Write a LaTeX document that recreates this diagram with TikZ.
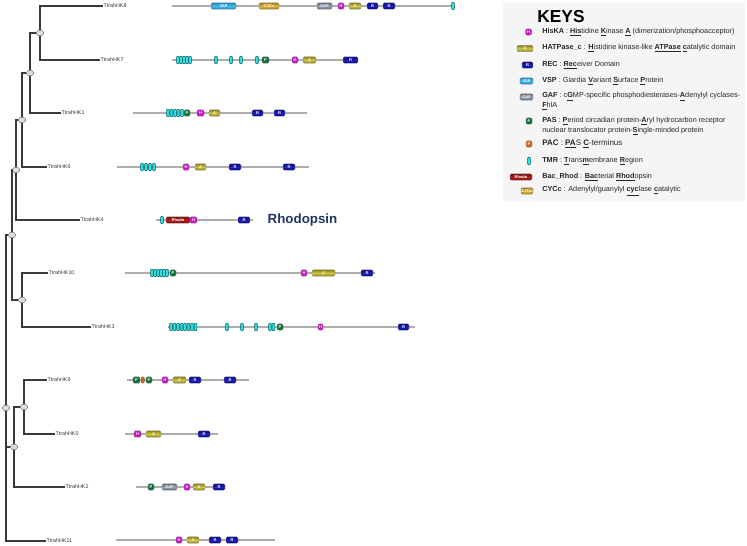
\documentclass[tikz,border=0pt]{standalone}
\usepackage{fontspec}
\setmainfont{Liberation Sans}
\usepackage{xcolor}
\usepackage{tikz}
\usetikzlibrary{shapes.geometric, positioning}
\definecolor{hiscol}{HTML}{CC10CC}
\definecolor{atpcol}{HTML}{8C8410}
\definecolor{atpmid}{HTML}{CFC64A}
\definecolor{reccol}{HTML}{06068E}
\definecolor{recmid}{HTML}{2020B8}
\definecolor{vspcol}{HTML}{1888C4}
\definecolor{vspmid}{HTML}{48BCEA}
\definecolor{gafcol}{HTML}{5E6C7E}
\definecolor{gafmid}{HTML}{97A3B2}
\definecolor{pascol}{HTML}{12703A}
\definecolor{paccol}{HTML}{D0651C}
\definecolor{tmrcol}{HTML}{30DEE0}
\definecolor{rhocol}{HTML}{7E0808}
\definecolor{rhomid}{HTML}{B02020}
\definecolor{cyccol}{HTML}{A8820C}
\definecolor{cycmid}{HTML}{DCB444}
\definecolor{treecol}{HTML}{3A3A3A}
\definecolor{linecol}{HTML}{ADADAD}
\definecolor{keybg}{HTML}{F5F5F5}
\definecolor{rhodtext}{HTML}{1F3566}
\newcommand{\keyu}[1]{\underline{\textbf{#1}}}
\tikzstyle{dom} = [rectangle, rounded corners=1pt, draw=black!50, line width=0.3pt, inner sep=0pt, minimum height=4.8pt, text=white, font=\fontsize{3}{3}\selectfont\bfseries]
\tikzstyle{his} = [dom, fill=hiscol]
\tikzstyle{atp} = [dom, top color=atpcol, bottom color=atpcol, middle color=atpmid]
\tikzstyle{rec} = [dom, top color=reccol, bottom color=reccol, middle color=recmid]
\tikzstyle{vsp} = [dom, top color=vspcol, bottom color=vspcol, middle color=vspmid]
\tikzstyle{gaf} = [dom, top color=gafcol, bottom color=gafcol, middle color=gafmid]
\tikzstyle{pas} = [dom, fill=pascol]
\tikzstyle{pac} = [dom, fill=paccol]
\tikzstyle{rho} = [dom, top color=rhocol, bottom color=rhocol, middle color=rhomid]
\tikzstyle{cyc} = [dom, top color=cyccol, bottom color=cyccol, middle color=cycmid]
\tikzstyle{tmr} = [rectangle, rounded corners=0.5pt, draw=teal!70!black, line width=0.3pt, fill=tmrcol, minimum width=2.1pt, minimum height=5.4pt, inner sep=0pt]
\tikzstyle{backbone} = [draw=linecol, line width=1pt]
\tikzstyle{branch} = [draw=treecol, line width=1pt]
\tikzstyle{split} = [ellipse, draw=black!55, fill=black!12, line width=0.4pt, minimum width=5.5pt, minimum height=4.2pt, inner sep=0pt]
\tikzstyle{leaf} = [anchor=west, inner sep=0.3pt, text=black!80, font=\fontsize{4}{4}\selectfont]
\tikzstyle{keytxt} = [anchor=west, inner sep=0pt, align=left, text=black!85, font=\fontsize{5.45}{7.3}\selectfont]

\begin{document}
\begin{tikzpicture}[x=0.75pt, y=-0.75pt]
    \useasboundingbox (0,0) rectangle (747,546);
    % Tree
    
\node[split] (n87) at (40,33) {};
\node[split] (n871) at (30,73) {};
\node[split] (n8716) at (22,120) {};
\node[split] (n87164) at (16,170) {};
\node[split] (n103) at (22,300) {};
\node[split] (nup) at (12,235) {};
\node[split] (n95) at (24,407) {};
\node[split] (n952) at (14,447) {};
\node[split] (nroot) at (6,408) {};
    
\node[leaf] (hk8) at (103,6) {TtrahHK8};
\node[leaf] (hk7) at (100,60) {TtrahHK7};
\node[leaf] (hk1) at (61,113) {TtrahHK1};
\node[leaf] (hk6) at (47,167) {TtrahHK6};
\node[leaf] (hk4) at (80,220) {TtrahHK4};
\node[leaf] (hk10) at (48,273) {TtrahHK10};
\node[leaf] (hk3) at (91,327) {TtrahHK3};
\node[leaf] (hk9) at (47,380) {TtrahHK9};
\node[leaf] (hk5) at (55,434) {TtrahHK5};
\node[leaf] (hk2) at (65,487) {TtrahHK2};
\node[leaf] (hk11) at (46,541) {TtrahHK11};
    
    \draw[branch] (n87) |- (hk8.west);
    \draw[branch] (n87) |- (hk7.west);
    \draw[branch] (n871) |- (n87);
    \draw[branch] (n871) |- (hk1.west);
    \draw[branch] (n8716) |- (n871);
    \draw[branch] (n8716) |- (hk6.west);
    \draw[branch] (n87164) |- (n8716);
    \draw[branch] (n87164) |- (hk4.west);
    \draw[branch] (n103) |- (hk10.west);
    \draw[branch] (n103) |- (hk3.west);
    \draw[branch] (nup) |- (n87164);
    \draw[branch] (nup) |- (n103);
    \draw[branch] (n95) |- (hk9.west);
    \draw[branch] (n95) |- (hk5.west);
    \draw[branch] (n952) |- (n95);
    \draw[branch] (n952) |- (hk2.west);
    \draw[branch] (nroot) |- (nup);
    \draw[branch] (nroot) |- (n952);
    \draw[branch] (nroot) |- (hk11.west);
    
    % Domain architectures
    
\coordinate (s8) at (172,6); \coordinate (e8) at (455,6);
    \draw[backbone] (s8) -- (e8);
    \foreach \s/\a/\b/\t in {vsp/211/236/VSP, cyc/259/279/CYCc, gaf/317/332/GAF, his/338/344/H, atp/349/361/A, rec/367/378/R, rec/383/395/R}
      \node[\s, minimum width={(\b-\a)*0.75pt}] (hk8-\a) at ({(\a+\b)/2},6) {\t};
    \node[tmr] (hk8-t453) at (453,6) {};
    
\coordinate (s7) at (172,60); \coordinate (e7) at (358,60);
    \draw[backbone] (s7) -- (e7);
    \foreach \a in {178,181,184,187,190,216,231,241,257}
      \node[tmr] (hk7-t\a) at (\a,60) {};
    \foreach \s/\a/\b/\t in {pas/262/269/P, his/292/298/H, atp/303/316/A, rec/343/358/R}
      \node[\s, minimum width={(\b-\a)*0.75pt}] (hk7-\a) at ({(\a+\b)/2},60) {\t};
    
\coordinate (s1) at (133,113); \coordinate (e1) at (307,113);
    \draw[backbone] (s1) -- (e1);
    \foreach \a in {168,171.5,175,178.5,182}
      \node[tmr] (hk1-t\a) at (\a,113) {};
    \foreach \s/\a/\b/\t in {pas/184/190/P, his/197/204/H, atp/209/220/A, rec/252/263/R, rec/274/285/R}
      \node[\s, minimum width={(\b-\a)*0.75pt}] (hk1-\a) at ({(\a+\b)/2},113) {\t};
    
\coordinate (s6) at (117,167); \coordinate (e6) at (309,167);
    \draw[backbone] (s6) -- (e6);
    \foreach \a in {142,146,150,154}
      \node[tmr] (hk6-t\a) at (\a,167) {};
    \foreach \s/\a/\b/\t in {his/183/189/H, atp/195/206/A, rec/229/241/R, rec/283/295/R}
      \node[\s, minimum width={(\b-\a)*0.75pt}] (hk6-\a) at ({(\a+\b)/2},167) {\t};
    
\coordinate (s4) at (156,220); \coordinate (e4) at (253,220);
    \draw[backbone] (s4) -- (e4);
    \node[tmr] (hk4-t162) at (162,220) {};
    \foreach \s/\a/\b/\t in {rho/166/190/Rhodo, his/190/197/H, rec/238/250/R}
      \node[\s, minimum width={(\b-\a)*0.75pt}] (hk4-\a) at ({(\a+\b)/2},220) {\t};
    \node[anchor=west, text=rhodtext, font=\fontsize{10}{10}\selectfont\bfseries] (rhodopsin) at (263,220) {Rhodopsin};
    
\coordinate (s10) at (125,273); \coordinate (e10) at (375,273);
    \draw[backbone] (s10) -- (e10);
    \foreach \a in {152,155,158,161,164,167}
      \node[tmr] (hk10-t\a) at (\a,273) {};
    \foreach \s/\a/\b/\t in {pas/170/176/P, his/301/307/H, atp/312/335/A, rec/361/373/R}
      \node[\s, minimum width={(\b-\a)*0.75pt}] (hk10-\a) at ({(\a+\b)/2},273) {\t};
    
\coordinate (s3) at (168,327); \coordinate (e3) at (415,327);
    \draw[backbone] (s3) -- (e3);
    \foreach \a in {171,174.5,178,181.5,185,188.5,192,195.5,227,242,256,270,273.5}
      \node[tmr] (hk3-t\a) at (\a,327) {};
    \foreach \s/\a/\b/\t in {pas/277/283/P, his/318/323/H, rec/398/409/R}
      \node[\s, minimum width={(\b-\a)*0.75pt}] (hk3-\a) at ({(\a+\b)/2},327) {\t};
    
\coordinate (s9) at (127,380); \coordinate (e9) at (249,380);
    \draw[backbone] (s9) -- (e9);
    \foreach \s/\a/\b/\t in {pas/133/140/P, pac/141/144.5/{}, pas/146/152/P, his/162/168/H, atp/173/186/A, rec/189/201/R, rec/224/236/R}
      \node[\s, minimum width={(\b-\a)*0.75pt}] (hk9-\a) at ({(\a+\b)/2},380) {\t};
    
\coordinate (s5) at (125,434); \coordinate (e5) at (218,434);
    \draw[backbone] (s5) -- (e5);
    \foreach \s/\a/\b/\t in {his/134/141/H, atp/146/161/A, rec/198/210/R}
      \node[\s, minimum width={(\b-\a)*0.75pt}] (hk5-\a) at ({(\a+\b)/2},434) {\t};
    
\coordinate (s2) at (136,487); \coordinate (e2) at (225,487);
    \draw[backbone] (s2) -- (e2);
    \foreach \s/\a/\b/\t in {pas/148/154/P, gaf/162/177/GAF, his/184/190/H, atp/193/205/A, rec/213/225/R}
      \node[\s, minimum width={(\b-\a)*0.75pt}] (hk2-\a) at ({(\a+\b)/2},487) {\t};
    
\coordinate (s11) at (116,540); \coordinate (e11) at (275,540);
    \draw[backbone] (s11) -- (e11);
    \foreach \s/\a/\b/\t in {his/176/182/H, atp/187/199/A, rec/209/221/R, rec/226/238/R}
      \node[\s, minimum width={(\b-\a)*0.75pt}] (hk11-\a) at ({(\a+\b)/2},540) {\t};
    
    % Keys
    \fill[keybg] (503,3) rectangle (745,201);
    
\node[font=\fontsize{13}{13}\selectfont\bfseries] (keys) at (561,17) {KEYS};
    
\node[his, minimum width=4.5pt] (khisbox) at (528.5,32) {H};
\node[atp, minimum width=12pt] (katpbox) at (525,48.5) {A};
\node[rec, minimum width=8.2pt] (krecbox) at (527.5,65) {R};
\node[vsp, minimum width=9.8pt] (kvspbox) at (526.5,81) {VSP};
\node[gaf, minimum width=9.8pt] (kgafbox) at (526.5,97) {GAF};
\node[pas, minimum width=4.5pt] (kpasbox) at (529,121) {P};
\node[pac, minimum width=4.5pt] (kpacbox) at (529,144) {P};
\node[tmr] (ktmrbox) at (529,161) {};
\node[rho, minimum width=16.5pt] (krhobox) at (521,177) {Rhodo};
\node[cyc, minimum width=9pt] (kcycbox) at (527,191) {CYCc};
    
\node[keytxt] (khis) at (542,32) {\textbf{HisKA} : \keyu{His}tidine \keyu{K}inase \keyu{A} (dimerization/phosphoacceptor)};
\node[keytxt] (katp) at (542,48.5) {\textbf{HATPase\_c} : \keyu{H}istidine kinase-like \keyu{ATPase} \keyu{c}atalytic domain};
\node[keytxt] (krec) at (542,65) {\textbf{REC} : \keyu{Rec}eiver Domain};
\node[keytxt] (kvsp) at (542,81) {\textbf{VSP} : Giardia \keyu{V}ariant \keyu{S}urface \keyu{P}rotein};
\node[keytxt] (kgaf) at (542,101.5) {\textbf{GAF} : c\keyu{G}MP-specific phosphodiesterases-\keyu{A}denylyl cyclases-\\\keyu{F}hlA};
\node[keytxt] (kpas) at (542,126) {\textbf{PAS} : \keyu{P}eriod circadian protein-\keyu{A}ryl hydrocarbon receptor\\nuclear translocator protein-\keyu{S}ingle-minded protein};
\node[keytxt, font=\fontsize{6}{7}\selectfont] (kpac) at (542,144) {\textbf{PAC} : \keyu{PA}S \keyu{C}-terminus};
\node[keytxt] (ktmr) at (542,161) {\textbf{TMR} : \keyu{T}rans\keyu{m}embrane \keyu{R}egion};
\node[keytxt] (krho) at (542,177) {\textbf{Bac\_Rhod} : \keyu{Bac}terial \keyu{Rhod}opsin};
\node[keytxt] (kcyc) at (542,191) {\textbf{CYCc} : Adenylyl/guanylyl \keyu{cyc}lase \keyu{c}atalytic};
\end{tikzpicture}
\end{document}
